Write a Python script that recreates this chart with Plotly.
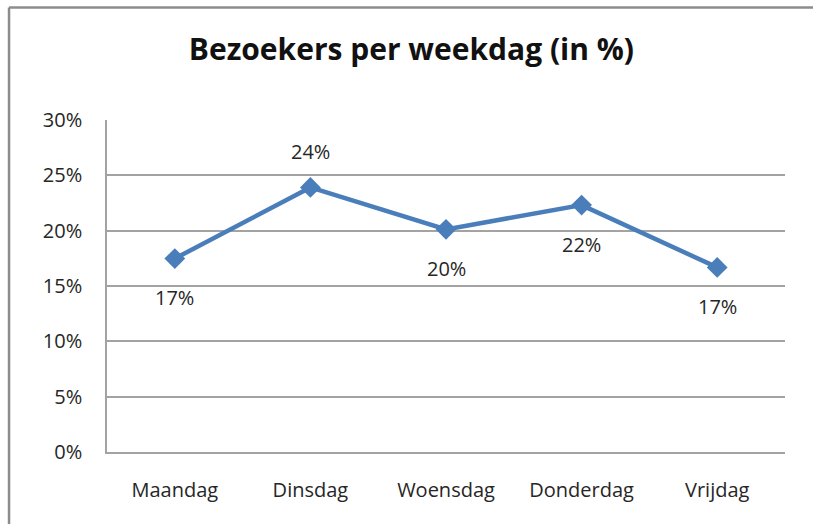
import plotly.graph_objects as go

days = ["Maandag", "Dinsdag", "Woensdag", "Donderdag", "Vrijdag"]
share = [0.1748, 0.2391, 0.2012, 0.2231, 0.1668]
label_pos = ["below", "above", "below", "below", "below"]
y_ticks = [0, 0.05, 0.10, 0.15, 0.20, 0.25, 0.30]

FONT = "Open Sans, Liberation Sans, sans-serif"
BLUE = "#4A7EBB"
GRID = "#A3A3A3"
TXT = "#262626"
BORDER = "#8C8C8C"

fig = go.Figure()
fig.add_trace(go.Scatter(
    x=days, y=share, mode="lines+markers",
    line=dict(color=BLUE, width=4.5),
    marker=dict(symbol="diamond", size=16, color=BLUE),
    hoverinfo="skip", showlegend=False,
))

for d, v, p in zip(days, share, label_pos):
    fig.add_annotation(
        x=d, y=v, text=f"{round(v*100)}%", showarrow=False,
        yshift=36 if p == "above" else -39,
        font=dict(family=FONT, size=20, color=TXT),
    )

# outer chart frame (only left and top edges are visible in the crop)
fig.add_shape(type="line", xref="paper", yref="paper",
              x0=-0.1445, x1=-0.1445, y0=-0.3, y1=1.339,
              line=dict(color=BORDER, width=2.5), layer="below")
fig.add_shape(type="line", xref="paper", yref="paper",
              x0=-0.1445, x1=1.1, y0=1.339, y1=1.339,
              line=dict(color=BORDER, width=2.5), layer="below")

fig.update_layout(
    width=813, height=524,
    margin=dict(l=107, r=28, t=120, b=72),
    paper_bgcolor="white", plot_bgcolor="white",
    title=dict(text="<b>Bezoekers per weekdag (in %)</b>", x=0.506, xref="container",
               xanchor="center", y=0.905, yref="container", yanchor="middle",
               font=dict(family=FONT, size=30, color="#111111")),
    font=dict(family=FONT, size=20, color=TXT),
)
fig.update_xaxes(
    type="category", range=[-0.5, 4.5], showgrid=False,
    showline=True, linecolor=GRID, linewidth=1.5, ticks="",
    tickfont=dict(family=FONT, size=20, color=TXT), ticklabelstandoff=19,
)
fig.update_yaxes(
    range=[0, 0.30], tickvals=y_ticks, tickformat=".0%",
    showgrid=True, gridcolor=GRID, gridwidth=1.5,
    showline=True, linecolor=GRID, linewidth=1.5, zeroline=False, ticks="",
    tickfont=dict(family=FONT, size=20, color=TXT), ticklabelstandoff=19,
)

fig.write_html(
    "out.html", config={"displayModeBar": False},
    post_script=("document.body.style.margin='0';"
                 "document.body.style.overflow='hidden';"
                 "document.documentElement.style.overflow='hidden';"),
)
